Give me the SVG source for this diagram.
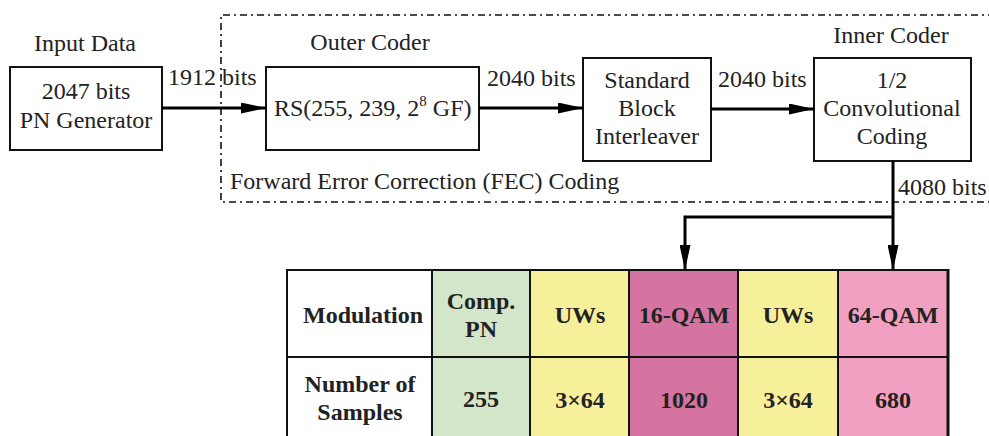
<svg xmlns="http://www.w3.org/2000/svg" width="989" height="436" viewBox="0 0 989 436">
  <style>
    .t { font-family: "Liberation Serif", "Times New Roman", serif; font-size: 24px; fill: #222; }
    .m { text-anchor: middle; }
    .b { font-weight: bold; }
    .box { fill: #fff; stroke: #111; stroke-width: 2; }
    .cell { stroke: #111; stroke-width: 2; }
    .wire { fill: none; stroke: #000; stroke-width: 3; }
    .fec { fill: none; stroke: #111; stroke-width: 1.6; stroke-dasharray: 7 4 2 4; }
  </style>
  <defs>
    <marker id="arr" markerWidth="25" markerHeight="11" refX="25" refY="5.5" orient="auto" markerUnits="userSpaceOnUse">
      <path d="M0,0 L25,5.5 L0,11 Z" fill="#000"/>
    </marker>
  </defs>

  <!-- FEC boundary (right side runs past the edge) -->
  <path class="fec" d="M995,15 H221 V202 H995"/>
  <text class="t" x="230" y="189">Forward Error Correction (FEC) Coding</text>

  <g id="pn-generator">
    <text class="t m" x="85" y="51">Input Data</text>
    <rect class="box" x="10" y="67" width="152" height="83"/>
    <text class="t m" x="86" y="99">2047 bits</text>
    <text class="t m" x="86" y="128">PN Generator</text>
  </g>

  <g id="outer-coder">
    <text class="t m" x="370" y="50">Outer Coder</text>
    <rect class="box" x="266" y="67" width="213" height="83"/>
    <text class="t" x="274" y="116">RS(255, 239, 2<tspan font-size="15" dy="-10">8</tspan><tspan dy="10"> GF)</tspan></text>
  </g>

  <g id="interleaver">
    <rect class="box" x="583" y="58" width="128" height="103"/>
    <text class="t m" x="647" y="88">Standard</text>
    <text class="t m" x="647" y="116">Block</text>
    <text class="t m" x="647" y="144">Interleaver</text>
  </g>

  <g id="inner-coder">
    <text class="t m" x="891" y="43">Inner Coder</text>
    <rect class="box" x="814" y="58" width="157" height="103"/>
    <text class="t m" x="892" y="88">1/2</text>
    <text class="t m" x="892" y="116">Convolutional</text>
    <text class="t m" x="892" y="144">Coding</text>
  </g>

  <g id="frame-table">
    <rect class="cell" x="287" y="270" width="145" height="175" fill="#fff"/>
    <rect class="cell" x="432" y="270" width="98" height="175" fill="#d3e6c9"/>
    <rect class="cell" x="530" y="270" width="99" height="175" fill="#f7f09b"/>
    <rect class="cell" x="629" y="270" width="109" height="175" fill="#d574a0"/>
    <rect class="cell" x="738" y="270" width="100" height="175" fill="#f7f09b"/>
    <rect class="cell" x="838" y="270" width="110" height="175" fill="#f2a0c2"/>
    <line class="cell" x1="287" y1="357" x2="948" y2="357"/>
    <line x1="948" y1="269" x2="948" y2="440" stroke="#111" stroke-width="3"/>

    <text class="t b m" x="363" y="323">Modulation</text>
    <text class="t b m" x="481" y="309">Comp.</text>
    <text class="t b m" x="481" y="337">PN</text>
    <text class="t b m" x="580" y="323">UWs</text>
    <text class="t b m" x="684" y="323">16-QAM</text>
    <text class="t b m" x="788" y="323">UWs</text>
    <text class="t b m" x="893" y="323">64-QAM</text>

    <text class="t b m" x="360" y="392">Number of</text>
    <text class="t b m" x="360" y="420">Samples</text>
    <text class="t b m" x="481" y="407">255</text>
    <text class="t b m" x="580" y="408">3×64</text>
    <text class="t b m" x="684" y="408">1020</text>
    <text class="t b m" x="788" y="408">3×64</text>
    <text class="t b m" x="893" y="408">680</text>
  </g>

  <g id="connectors">
    <path class="wire" d="M162,108 H266" marker-end="url(#arr)"/>
    <path class="wire" d="M479,108 H583" marker-end="url(#arr)"/>
    <path class="wire" d="M711,109 H814" marker-end="url(#arr)"/>
    <path class="wire" d="M893,161 V270" marker-end="url(#arr)"/>
    <path class="wire" d="M893,217 H685 V270" marker-end="url(#arr)"/>
    <text class="t" x="168" y="85">1912 bits</text>
    <text class="t" x="487" y="86">2040 bits</text>
    <text class="t" x="718" y="87">2040 bits</text>
    <text class="t" x="898" y="195">4080 bits</text>
  </g>
</svg>
